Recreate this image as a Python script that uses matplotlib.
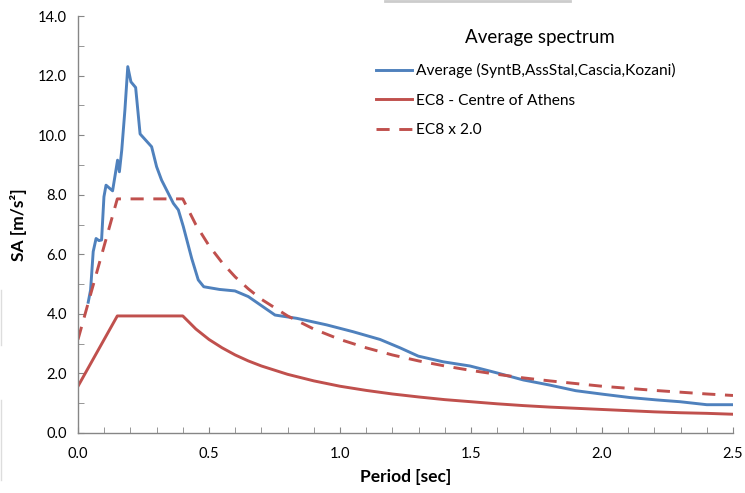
import matplotlib
matplotlib.use("Agg")
import matplotlib.pyplot as plt
from matplotlib.ticker import MultipleLocator, FormatStrFormatter

# Average spectrum
avg_T = [0.039, 0.048, 0.058, 0.069, 0.080, 0.090, 0.099, 0.107, 0.132, 0.151, 0.158,
         0.167, 0.179, 0.190, 0.202, 0.220, 0.237, 0.281, 0.300, 0.319, 0.364, 0.383,
         0.402, 0.434, 0.459, 0.480, 0.540, 0.599, 0.650, 0.752, 0.835, 0.949, 1.050,
         1.153, 1.229, 1.299, 1.394, 1.496, 1.598, 1.700, 1.800, 1.900, 2.005, 2.107,
         2.209, 2.298, 2.400, 2.500]
avg_SA = [4.39, 4.80, 6.09, 6.53, 6.46, 6.48, 7.93, 8.32, 8.13, 9.16, 8.77,
          9.50, 10.84, 12.30, 11.79, 11.60, 10.04, 9.61, 8.94, 8.49, 7.71, 7.49,
          6.93, 5.86, 5.14, 4.91, 4.82, 4.77, 4.58, 3.96, 3.85, 3.63, 3.40,
          3.14, 2.86, 2.58, 2.39, 2.25, 2.02, 1.78, 1.61, 1.42, 1.30, 1.19,
          1.11, 1.05, 0.95, 0.95]

# EC8 - Centre of Athens
ec8_T = [0.0, 0.15, 0.40, 0.45, 0.50, 0.55, 0.60, 0.65, 0.70, 0.80, 0.90, 1.00, 1.10,
         1.20, 1.30, 1.40, 1.50, 1.60, 1.70, 1.80, 1.90, 2.00, 2.10, 2.20, 2.30, 2.40, 2.50]
ec8_SA = [1.57, 3.93, 3.93, 3.49, 3.14, 2.86, 2.62, 2.42, 2.25, 1.97, 1.75, 1.57, 1.43,
          1.31, 1.21, 1.12, 1.05, 0.98, 0.92, 0.87, 0.83, 0.79, 0.75, 0.71, 0.68, 0.66, 0.63]

# EC8 x 2.0
ec8x2_SA = [3.14, 7.86, 7.86, 6.99, 6.29, 5.72, 5.24, 4.84, 4.49, 3.93, 3.49, 3.14, 2.86,
            2.62, 2.42, 2.25, 2.10, 1.97, 1.85, 1.75, 1.66, 1.57, 1.50, 1.43, 1.37, 1.31, 1.26]

labels = ["Average (SyntB,AssStal,Cascia,Kozani)", "EC8 - Centre of Athens", "EC8 x 2.0"]

plt.rcParams['font.family'] = ['Lato', 'DejaVu Sans']

fig = plt.figure(figsize=(7.45, 4.93), dpi=100)
ax = fig.add_axes([78/745, 60/493, (733-78)/745, (433-16)/493])

blue = '#4F81BD'
red = '#C0504D'
l1, = ax.plot(avg_T, avg_SA, color=blue, lw=2.1, label=labels[0])
l2, = ax.plot(ec8_T, ec8_SA, color=red, lw=2.1, label=labels[1])
l3, = ax.plot(ec8_T, ec8x2_SA, color=red, lw=2.1, ls=(0, (4.5, 3.3)), label=labels[2])

ax.set_xlim(0, 2.5)
ax.set_ylim(0, 14)
ax.xaxis.set_major_locator(MultipleLocator(0.5))
ax.xaxis.set_minor_locator(MultipleLocator(0.1))
ax.yaxis.set_major_locator(MultipleLocator(2))
ax.yaxis.set_minor_locator(MultipleLocator(1))
ax.xaxis.set_major_formatter(FormatStrFormatter('%.1f'))
ax.yaxis.set_major_formatter(FormatStrFormatter('%.1f'))

for s in ['top', 'right']:
    ax.spines[s].set_visible(False)
for s in ['left', 'bottom']:
    ax.spines[s].set_color('#868686')
    ax.spines[s].set_linewidth(1.0)
ax.tick_params(which='both', direction='in', color='#868686', labelsize=10.5, labelcolor='black')
ax.tick_params(which='major', length=4)
ax.tick_params(which='minor', length=4)
ax.tick_params(axis='x', pad=10)
ax.tick_params(axis='y', pad=8)

ax.set_xlabel('Period [sec]', fontsize=12.5, fontweight='bold', labelpad=6)
ax.set_ylabel('SA [m/s²]', fontsize=12.5, fontweight='bold', labelpad=8)

fig.text(540/745, 1 - 38/493, 'Average spectrum', ha='center', va='center', fontsize=13.5)
leg = fig.legend(handles=[l1, l2, l3], loc='upper left', bbox_to_anchor=(376/745, 1 - 63/493),
                 frameon=False, fontsize=11.2, handlelength=2.3, handletextpad=0.25,
                 labelspacing=1.0, borderpad=0.0, borderaxespad=0.0)

# light cropping artifacts in the original picture
fig.add_artist(plt.Line2D([385/745, 570/745], [1 - 1/493, 1 - 1/493], color='#cccccc', lw=2))
fig.add_artist(plt.Line2D([0.5/745, 0.5/745], [1 - 290/493, 1 - 345/493], color='#dddddd', lw=1))
fig.add_artist(plt.Line2D([0.5/745, 0.5/745], [1 - 400/493, 1 - 480/493], color='#dddddd', lw=1))

fig.savefig('out.png', dpi=100)
